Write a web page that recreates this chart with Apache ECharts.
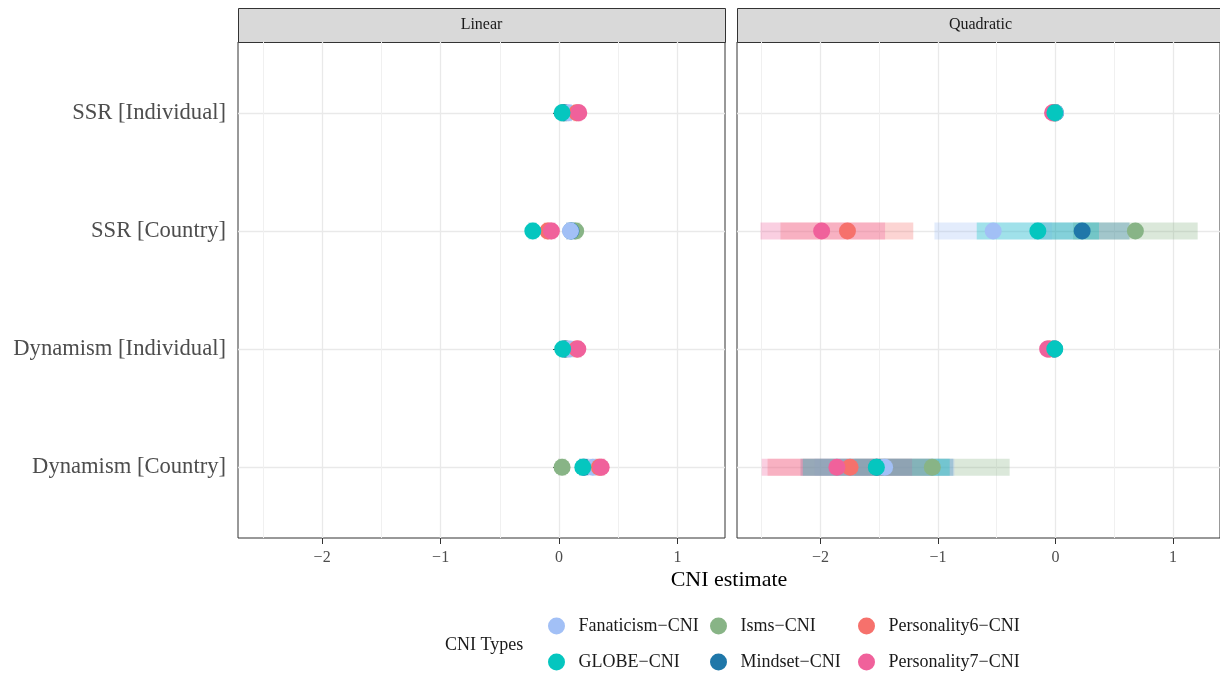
<!DOCTYPE html>
<html><head><meta charset="utf-8">
<script src="https://cdn.jsdelivr.net/npm/echarts@6/dist/echarts.min.js"></script>
<style>html,body{margin:0;padding:0;background:#fff}#c{width:1220px;height:675px}</style>
</head><body><div id="c"></div>
<script>
// ---------- data ----------
const categories = ['Dynamism [Country]', 'Dynamism [Individual]', 'SSR [Country]', 'SSR [Individual]'];
const cniTypes = ['Fanaticism\u2212CNI', 'GLOBE\u2212CNI', 'Isms\u2212CNI', 'Mindset\u2212CNI', 'Personality6\u2212CNI', 'Personality7\u2212CNI'];
const typeColors = ['#a2c0f6', '#05c6bf', '#88b486', '#1f77a9', '#f6716c', '#f0619b'];
const panels = ['Linear', 'Quadratic'];
const xTickValues = [-2, -1, 0, 1];
const xMinorValues = [-2.5, -1.5, -0.5, 0.5];
const yTickValues = [1, 2, 3, 4];

// rows: cniTypes order; columns: categories order
const linearEst = [
  [0.285, 0.09, 0.096, 0.08],
  [0.20, 0.03, -0.222, 0.025],
  [0.025, 0.05, 0.14, 0.04],
  [0.21, 0.05, 0.10, 0.04],
  [0.34, 0.15, -0.095, 0.15],
  [0.355, 0.158, -0.065, 0.166]
];
const linearLo = [
  [0.25, 0.06, 0.06, 0.05],
  [0.17, 0.00, -0.26, 0.00],
  [-0.01, 0.02, 0.10, 0.01],
  [0.17, 0.02, 0.06, 0.01],
  [0.30, 0.12, -0.13, 0.12],
  [0.32, 0.13, -0.10, 0.14]
];
const linearHi = [
  [0.32, 0.12, 0.13, 0.11],
  [0.23, 0.06, -0.19, 0.05],
  [0.06, 0.08, 0.18, 0.07],
  [0.25, 0.08, 0.14, 0.07],
  [0.38, 0.18, -0.06, 0.18],
  [0.39, 0.19, -0.03, 0.19]
];
const quadEst = [
  [-1.454, -0.01, -0.53, 0.0],
  [-1.524, -0.006, -0.15, -0.005],
  [-1.048, -0.01, 0.68, 0.0],
  [-1.52, -0.01, 0.227, 0.0],
  [-1.748, -0.05, -1.77, -0.015],
  [-1.86, -0.067, -1.99, -0.025]
];
const quadLo = [
  [-2.05, -0.03, -1.03, -0.02],
  [-2.15, -0.03, -0.67, -0.02],
  [-1.71, -0.03, 0.15, -0.02],
  [-2.17, -0.03, -0.18, -0.02],
  [-2.45, -0.08, -2.34, -0.04],
  [-2.50, -0.09, -2.51, -0.05]
];
const quadHi = [
  [-0.86, 0.01, -0.03, 0.02],
  [-0.90, 0.02, 0.37, 0.01],
  [-0.39, 0.01, 1.21, 0.02],
  [-0.87, 0.01, 0.63, 0.02],
  [-1.05, -0.02, -1.21, 0.01],
  [-1.22, -0.04, -1.45, 0.0]
];
// drawing order (later on top): Isms, Mindset, Fanaticism, Personality6, Personality7, GLOBE
const drawOrder = [2, 3, 0, 4, 5, 1];

// ---------- chart ----------
const SERIF = "'Liberation Serif', 'DejaVu Serif', serif";
const estSets = [linearEst, quadEst], loSets = [linearLo, quadLo], hiSets = [linearHi, quadHi];
const gridLeft = [238, 737], gridW = 487, gridTop = 42, gridH = 496;
const fmtNum = v => (v < 0 ? '\u2212' + Math.abs(v) : String(v));

const grids = [], xAxes = [], yAxes = [], series = [];
for (let p = 0; p < 2; p++) {
  grids.push({left: gridLeft[p], top: gridTop, width: gridW, height: gridH, show: true,
    borderColor: '#333333', borderWidth: 1, backgroundColor: '#ffffff'});
  xAxes.push({type: 'value', gridIndex: p, min: -2.71, max: 1.40,
    axisLine: {show: false},
    axisTick: {show: true, customValues: xTickValues, length: 6, lineStyle: {color: '#333333'}},
    axisLabel: {customValues: xTickValues, formatter: fmtNum, fontFamily: SERIF, fontSize: 16, color: '#4d4d4d', margin: 12},
    splitLine: {show: true, lineStyle: {color: '#e9e9e9', width: 1.3}}});
}
for (let p = 0; p < 2; p++) {
  xAxes.push({type: 'value', gridIndex: p, min: -2.71, max: 1.40, position: 'bottom',
    axisLine: {show: false}, axisLabel: {show: false},
    axisTick: {show: false, customValues: xMinorValues},
    splitLine: {show: true, lineStyle: {color: '#f0f0f0', width: 1}}});
}
for (let p = 0; p < 2; p++) {
  yAxes.push({type: 'value', gridIndex: p, min: 0.4, max: 4.6,
    axisLine: {show: false},
    axisTick: {show: p === 0, customValues: yTickValues, length: 6, lineStyle: {color: '#333333'}},
    axisLabel: {show: p === 0, customValues: yTickValues, formatter: v => categories[Math.round(v) - 1] || '',
      fontFamily: SERIF, fontSize: 22.6, color: '#4d4d4d', margin: 12},
    splitLine: {show: true, lineStyle: {color: '#e9e9e9', width: 1.3}}});
}

for (let p = 0; p < 2; p++) {
  for (const t of drawOrder) {
    series.push({type: 'scatter', name: cniTypes[t], xAxisIndex: p, yAxisIndex: p,
      symbol: 'circle', symbolSize: 17, z: 5, silent: true,
      itemStyle: {color: typeColors[t], opacity: 1},
      emphasis: {disabled: true},
      data: categories.map((c, i) => [estSets[p][t][i], i + 1])});
  }
}
function ciRect(params, api) {
  const lo = api.coord([api.value(0), api.value(2)]);
  const hi = api.coord([api.value(1), api.value(2)]);
  return {type: 'rect', shape: {x: lo[0], y: lo[1] - 8.5, width: hi[0] - lo[0], height: 17},
    style: {fill: api.visual('color'), opacity: 0.3}};
}
for (let p = 0; p < 2; p++) {
  for (const t of drawOrder) {
    series.push({type: 'custom', name: cniTypes[t], xAxisIndex: p + 2, yAxisIndex: p,
      z: 3, silent: true, renderItem: ciRect,
      itemStyle: {color: typeColors[t]},
      encode: {x: [0, 1], y: 2},
      data: categories.map((c, i) => [loSets[p][t][i], hiSets[p][t][i], i + 1])});
  }
}

const legendCols = [[0, 1], [2, 3], [4, 5]];
const legendLeft = [548, 710, 858];
const legends = legendCols.map((col, k) => ({
  orient: 'vertical', left: legendLeft[k], top: 617, itemWidth: 34, itemHeight: 17, itemGap: 18,
  icon: 'circle', selectedMode: false, padding: 0,
  textStyle: {fontFamily: SERIF, fontSize: 18, color: '#1a1a1a', lineHeight: 17},
  data: col.map(t => cniTypes[t])
}));

const graphics = [];
for (let p = 0; p < 2; p++) {
  graphics.push({type: 'rect', left: gridLeft[p], top: 8, silent: true,
    shape: {width: gridW, height: 34}, style: {fill: '#d9d9d9', stroke: '#333333', lineWidth: 1}});
  graphics.push({type: 'text', x: gridLeft[p] + gridW / 2, y: 25, silent: true,
    style: {text: panels[p], fontFamily: SERIF, fontSize: 16, fill: '#1a1a1a', align: 'center', verticalAlign: 'middle'}});
}
graphics.push({type: 'text', x: 729, y: 580, silent: true,
  style: {text: 'CNI estimate', fontFamily: SERIF, fontSize: 22, fill: '#000000', align: 'center', verticalAlign: 'middle'}});
graphics.push({type: 'text', x: 445, y: 645, silent: true,
  style: {text: 'CNI Types', fontFamily: SERIF, fontSize: 18, fill: '#1a1a1a', align: 'left', verticalAlign: 'middle'}});

const chart = echarts.init(document.getElementById('c'), null, {renderer: 'canvas'});
chart.setOption({
  animation: false,
  backgroundColor: '#ffffff',
  grid: grids, xAxis: xAxes, yAxis: yAxes,
  legend: legends,
  graphic: graphics,
  series: series
});
</script>
</body></html>
